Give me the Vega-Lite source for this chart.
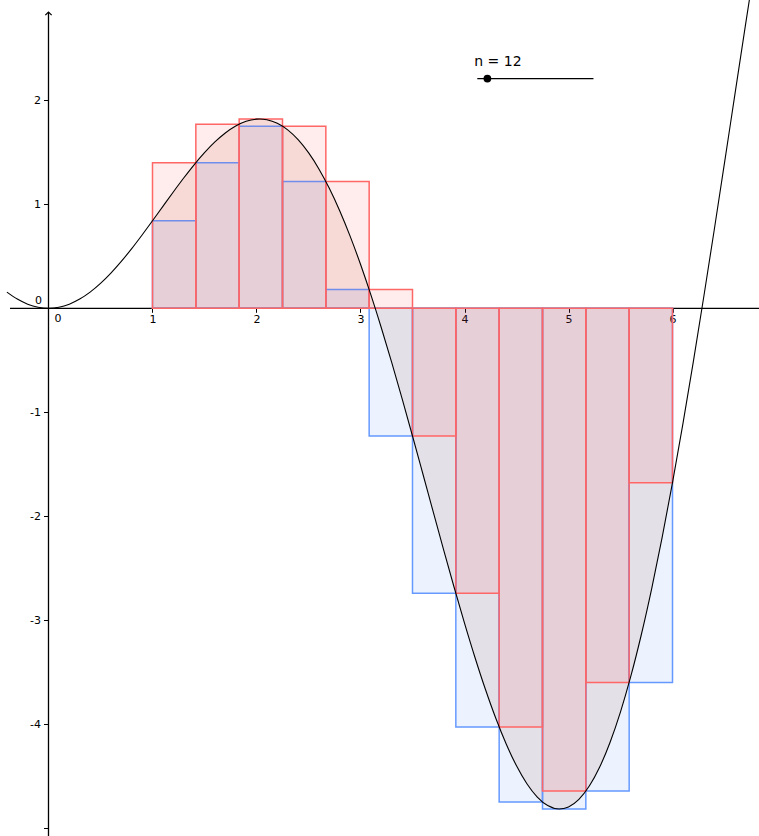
{
  "$schema": "https://vega.github.io/schema/vega-lite/v6.json",
  "width": 759,
  "height": 836,
  "autosize": {"type": "none"},
  "padding": 0,
  "background": "white",
  "config": {
    "view": {"stroke": null},
    "font": "DejaVu Sans",
    "axis": {"grid": false, "domain": false, "tickColor": "black", "tickWidth": 1, "labelColor": "black", "labelFont": "DejaVu Sans", "labelFontSize": 11, "labelFlush": false, "labelOverlap": false}
  },
  "datasets": {
    "one": [{"k": 1}],
    "curve": [
      {"x": -0.4, "y": 0.1558}, {"x": -0.3, "y": 0.0887}, {"x": -0.2, "y": 0.0397}, {"x": -0.1, "y": 0.01},
      {"x": 0, "y": 0}, {"x": 0.1, "y": 0.01}, {"x": 0.2, "y": 0.0397}, {"x": 0.3, "y": 0.0887},
      {"x": 0.4, "y": 0.1558}, {"x": 0.5, "y": 0.2397}, {"x": 0.6, "y": 0.3388}, {"x": 0.7, "y": 0.451},
      {"x": 0.8, "y": 0.5739}, {"x": 0.9, "y": 0.705}, {"x": 1.0, "y": 0.8415}, {"x": 1.1, "y": 0.9803},
      {"x": 1.2, "y": 1.1184}, {"x": 1.3, "y": 1.2526}, {"x": 1.4, "y": 1.3796}, {"x": 1.5, "y": 1.4962},
      {"x": 1.6, "y": 1.5993}, {"x": 1.7, "y": 1.6858}, {"x": 1.8, "y": 1.7529}, {"x": 1.9, "y": 1.798},
      {"x": 2.0, "y": 1.8186}, {"x": 2.03, "y": 1.8197}, {"x": 2.1, "y": 1.8127}, {"x": 2.2, "y": 1.7787},
      {"x": 2.3, "y": 1.7151}, {"x": 2.4, "y": 1.6211}, {"x": 2.5, "y": 1.4962}, {"x": 2.6, "y": 1.3403},
      {"x": 2.7, "y": 1.1539}, {"x": 2.8, "y": 0.938}, {"x": 2.9, "y": 0.6938}, {"x": 3.0, "y": 0.4234},
      {"x": 3.1, "y": 0.1289}, {"x": 3.2, "y": -0.1868}, {"x": 3.3, "y": -0.5206}, {"x": 3.4, "y": -0.8688},
      {"x": 3.5, "y": -1.2277}, {"x": 3.6, "y": -1.5931}, {"x": 3.7, "y": -1.9604}, {"x": 3.8, "y": -2.3251},
      {"x": 3.9, "y": -2.6823}, {"x": 4.0, "y": -3.0272}, {"x": 4.1, "y": -3.3549}, {"x": 4.2, "y": -3.6606},
      {"x": 4.3, "y": -3.9395}, {"x": 4.4, "y": -4.187}, {"x": 4.5, "y": -4.3989}, {"x": 4.6, "y": -4.571},
      {"x": 4.7, "y": -4.6996}, {"x": 4.8, "y": -4.7816}, {"x": 4.91, "y": -4.8146}, {"x": 5.0, "y": -4.7946},
      {"x": 5.1, "y": -4.7216}, {"x": 5.2, "y": -4.5939}, {"x": 5.3, "y": -4.411}, {"x": 5.4, "y": -4.1729},
      {"x": 5.5, "y": -3.8805}, {"x": 5.6, "y": -3.5351}, {"x": 5.7, "y": -3.1389}, {"x": 5.8, "y": -2.6947},
      {"x": 5.9, "y": -2.2059}, {"x": 6.0, "y": -1.6765}, {"x": 6.1, "y": -1.1112}, {"x": 6.2, "y": -0.5152},
      {"x": 6.3, "y": 0.1059}, {"x": 6.4, "y": 0.7459}, {"x": 6.5, "y": 1.3983}, {"x": 6.6, "y": 2.0562},
      {"x": 6.7, "y": 2.7125}, {"x": 6.8, "y": 3.3599}
    ],
    "rects": [
      {"x0": 1, "x1": 1.4167, "lo": 0.8415, "hi": 1.3999},
      {"x0": 1.4167, "x1": 1.8333, "lo": 1.3999, "hi": 1.7705},
      {"x0": 1.8333, "x1": 2.25, "lo": 1.7507, "hi": 1.8197},
      {"x0": 2.25, "x1": 2.6667, "lo": 1.2193, "hi": 1.7507},
      {"x0": 2.6667, "x1": 3.0833, "lo": 0.1797, "hi": 1.2193},
      {"x0": 3.0833, "x1": 3.5, "lo": -1.2277, "hi": 0.1797},
      {"x0": 3.5, "x1": 3.9167, "lo": -2.741, "hi": -1.2277},
      {"x0": 3.9167, "x1": 4.3333, "lo": -4.026, "hi": -2.741},
      {"x0": 4.3333, "x1": 4.75, "lo": -4.7466, "hi": -4.026},
      {"x0": 4.75, "x1": 5.1667, "lo": -4.8146, "hi": -4.642},
      {"x0": 5.1667, "x1": 5.5833, "lo": -4.642, "hi": -3.597},
      {"x0": 5.5833, "x1": 6, "lo": -3.597, "hi": -1.6765}
    ]
  },
  "layer": [
    {
      "data": {"name": "one"},
      "mark": {"type": "rule", "color": "black", "strokeWidth": 1.3},
      "encoding": {
        "x": {"datum": -0.37, "type": "quantitative", "scale": {"domain": [-0.4663, 6.8317], "nice": false, "zero": false}, "title": null,
              "axis": {"orient": "bottom", "offset": -527.7, "values": [1, 2, 3, 4, 5, 6], "tickSize": 4, "labelPadding": 1, "labelExpr": "'' + datum.value", "title": null}},
        "x2": {"datum": 6.9},
        "y": {"datum": 0, "type": "quantitative", "scale": {"domain": [-5.074, 2.9644], "nice": false, "zero": false}, "title": null,
              "axis": {"orient": "left", "offset": -48.5, "values": [-5, -4, -3, -2, -1, 1, 2], "tickSize": 5, "labelPadding": 3, "labelExpr": "datum.value == -5 ? '' : '' + datum.value", "title": null}}
      }
    },
    {
      "data": {"name": "one"},
      "mark": {"type": "rule", "color": "black", "strokeWidth": 1.3},
      "encoding": {
        "x": {"datum": 0, "type": "quantitative", "scale": {"domain": [-0.4663, 6.8317], "nice": false, "zero": false}, "title": null},
        "y": {"datum": 2.849, "type": "quantitative", "scale": {"domain": [-5.074, 2.9644], "nice": false, "zero": false}, "title": null},
        "y2": {"datum": -5.2}
      }
    },
    {
      "data": {"name": "one"},
      "mark": {"type": "point", "shape": "M-1,1L0,0L1,1", "filled": false, "stroke": "black", "strokeWidth": 1.2, "size": 40, "opacity": 1},
      "encoding": {
        "x": {"datum": 0, "type": "quantitative", "scale": {"domain": [-0.4663, 6.8317], "nice": false, "zero": false}, "title": null},
        "y": {"datum": 2.849, "type": "quantitative", "scale": {"domain": [-5.074, 2.9644], "nice": false, "zero": false}, "title": null}
      }
    },
    {
      "data": {"name": "curve"},
      "transform": [{"filter": "datum.x >= 1 && datum.x <= 6.0001"}],
      "mark": {"type": "area", "color": "#B43C14", "opacity": 0.1, "interpolate": "monotone"},
      "encoding": {
        "x": {"field": "x", "type": "quantitative", "scale": {"domain": [-0.4663, 6.8317], "nice": false, "zero": false}, "title": null},
        "y": {"field": "y", "type": "quantitative", "scale": {"domain": [-5.074, 2.9644], "nice": false, "zero": false}, "title": null},
        "y2": {"datum": 0}
      }
    },
    {
      "data": {"name": "rects"},
      "mark": {"type": "rect", "fill": "#0064FF", "fillOpacity": 0.075, "stroke": "#6699FF", "strokeWidth": 1.5},
      "encoding": {
        "x": {"field": "x0", "type": "quantitative", "scale": {"domain": [-0.4663, 6.8317], "nice": false, "zero": false}, "title": null},
        "x2": {"field": "x1"},
        "y": {"field": "lo", "type": "quantitative", "scale": {"domain": [-5.074, 2.9644], "nice": false, "zero": false}, "title": null},
        "y2": {"datum": 0}
      }
    },
    {
      "data": {"name": "rects"},
      "mark": {"type": "rect", "fill": "#FF0000", "fillOpacity": 0.075, "stroke": "#FF6666", "strokeWidth": 1.5},
      "encoding": {
        "x": {"field": "x0", "type": "quantitative", "scale": {"domain": [-0.4663, 6.8317], "nice": false, "zero": false}, "title": null},
        "x2": {"field": "x1"},
        "y": {"field": "hi", "type": "quantitative", "scale": {"domain": [-5.074, 2.9644], "nice": false, "zero": false}, "title": null},
        "y2": {"datum": 0}
      }
    },
    {
      "data": {"name": "curve"},
      "mark": {"type": "line", "color": "black", "strokeWidth": 1.1, "interpolate": "monotone", "clip": true},
      "encoding": {
        "x": {"field": "x", "type": "quantitative", "scale": {"domain": [-0.4663, 6.8317], "nice": false, "zero": false}, "title": null},
        "y": {"field": "y", "type": "quantitative", "scale": {"domain": [-5.074, 2.9644], "nice": false, "zero": false}, "title": null}
      }
    },
    {
      "data": {"name": "one"},
      "mark": {"type": "text", "text": "0", "font": "DejaVu Sans", "fontSize": 11, "fill": "black", "dx": -10, "dy": -7},
      "encoding": {
        "x": {"datum": 0, "type": "quantitative", "scale": {"domain": [-0.4663, 6.8317], "nice": false, "zero": false}, "title": null},
        "y": {"datum": 0, "type": "quantitative", "scale": {"domain": [-5.074, 2.9644], "nice": false, "zero": false}, "title": null}
      }
    },
    {
      "data": {"name": "one"},
      "mark": {"type": "text", "text": "0", "font": "DejaVu Sans", "fontSize": 11, "fill": "black", "dx": 9.5, "dy": 11},
      "encoding": {
        "x": {"datum": 0, "type": "quantitative", "scale": {"domain": [-0.4663, 6.8317], "nice": false, "zero": false}, "title": null},
        "y": {"datum": 0, "type": "quantitative", "scale": {"domain": [-5.074, 2.9644], "nice": false, "zero": false}, "title": null}
      }
    },
    {
      "data": {"name": "one"},
      "mark": {"type": "rule", "color": "black", "strokeWidth": 1.2},
      "encoding": {
        "x": {"datum": 4.123, "type": "quantitative", "scale": {"domain": [-0.4663, 6.8317], "nice": false, "zero": false}, "title": null},
        "x2": {"datum": 5.24},
        "y": {"datum": 2.209, "type": "quantitative", "scale": {"domain": [-5.074, 2.9644], "nice": false, "zero": false}, "title": null}
      }
    },
    {
      "data": {"name": "one"},
      "mark": {"type": "point", "shape": "circle", "filled": true, "color": "black", "size": 60, "opacity": 1},
      "encoding": {
        "x": {"datum": 4.22, "type": "quantitative", "scale": {"domain": [-0.4663, 6.8317], "nice": false, "zero": false}, "title": null},
        "y": {"datum": 2.209, "type": "quantitative", "scale": {"domain": [-5.074, 2.9644], "nice": false, "zero": false}, "title": null}
      }
    },
    {
      "data": {"name": "one"},
      "mark": {"type": "text", "text": "n = 12", "font": "DejaVu Sans", "fontSize": 14, "fill": "black", "align": "left", "baseline": "alphabetic"},
      "encoding": {
        "x": {"datum": 4.094, "type": "quantitative", "scale": {"domain": [-0.4663, 6.8317], "nice": false, "zero": false}, "title": null},
        "y": {"datum": 2.327, "type": "quantitative", "scale": {"domain": [-5.074, 2.9644], "nice": false, "zero": false}, "title": null}
      }
    }
  ]
}
